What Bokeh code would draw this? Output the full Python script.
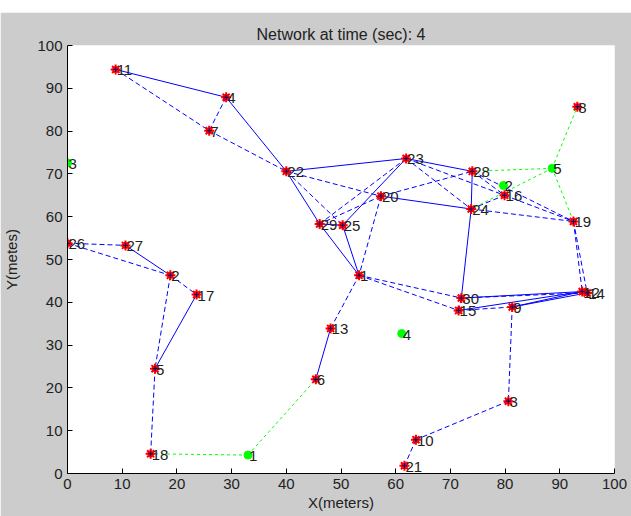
from bokeh.plotting import figure
from bokeh.models import Range1d, FixedTicker, Spacer, ColumnDataSource
from bokeh.layouts import column
from bokeh.embed import file_html
from bokeh.resources import INLINE
from bokeh.core.properties import value

# ---- data ----
red_ids = [str(i) for i in range(1, 31)]
red_x = [53.3, 18.8, 80.6, 29.0, 16.0, 45.4, 25.9, 93.2, 81.3, 63.7,
         8.8, 94.1, 48.1, 95.0, 71.5, 79.9, 23.6, 15.2, 92.5, 57.3,
         61.6, 40.0, 61.9, 73.8, 50.3, 0.0, 10.6, 74.0, 46.1, 72.0]
red_y = [46.3, 46.3, 16.9, 87.9, 24.5, 22.0, 80.1, 85.7, 38.9, 7.9,
         94.4, 42.5, 33.9, 42.2, 38.1, 65.0, 41.8, 4.6, 58.9, 64.8,
         1.8, 70.6, 73.6, 61.8, 58.0, 53.8, 53.3, 70.6, 58.3, 41.0]

green_ids = ["1", "2", "3", "4", "5"]
green_x = [33.0, 79.7, 0.0, 61.1, 88.6]
green_y = [4.3, 67.3, 72.6, 32.7, 71.3]

solid_links = [("R11", "R4"), ("R4", "R22"), ("R22", "R23"), ("R22", "R29"),
               ("R29", "R25"), ("R29", "R1"), ("R25", "R1"), ("R25", "R23"),
               ("R23", "R28"), ("R20", "R24"), ("R24", "R28"), ("R24", "R30"),
               ("R27", "R2"), ("R17", "R5"), ("R6", "R13"), ("R30", "R12"),
               ("R15", "R12"), ("R9", "R12"), ("R9", "R14")]
dashed_links = [("R11", "R7"), ("R7", "R22"), ("R4", "R7"), ("R26", "R27"),
                ("R26", "R2"), ("R2", "R17"), ("R2", "R5"), ("R5", "R18"),
                ("R13", "R1"), ("R22", "R25"), ("R22", "R20"), ("R23", "R29"),
                ("R23", "R24"), ("R23", "R16"), ("R20", "R28"), ("R20", "R1"),
                ("R20", "R29"), ("R28", "R16"), ("R28", "R19"), ("R24", "R16"),
                ("R24", "R19"), ("R16", "R19"), ("R19", "R12"), ("R19", "R14"),
                ("R1", "R30"), ("R1", "R15"), ("R30", "R15"), ("R30", "R14"),
                ("R15", "R9"), ("R9", "R3"), ("R3", "R10"), ("R10", "R21")]
green_links = [("G1", "R18"), ("G1", "R6"), ("G5", "R8"), ("G5", "R28"),
               ("G5", "R19"), ("G5", "R24")]

title_text = "Network at time (sec): 4"
x_label = "X(meters)"
y_label = "Y(metes)"
ticks = [0, 10, 20, 30, 40, 50, 60, 70, 80, 90, 100]

# ---- lookup ----
pos = {}
for i, x, y in zip(red_ids, red_x, red_y):
    pos["R" + i] = (x, y)
for i, x, y in zip(green_ids, green_x, green_y):
    pos["G" + i] = (x, y)


def segs(links):
    xs = [[pos[a][0], pos[b][0]] for a, b in links]
    ys = [[pos[a][1], pos[b][1]] for a, b in links]
    return xs, ys


FONT = "Liberation Sans"
BG = "#cccccc"

p = figure(width=631, height=504, output_backend="svg", toolbar_location=None,
           x_range=Range1d(0, 100), y_range=Range1d(0, 100),
           min_border_left=67, min_border_right=17, min_border_top=33,
           min_border_bottom=43, border_fill_color=BG,
           background_fill_color="white", outline_line_color=None,
           title=title_text)

p.title.align = "center"
p.title.text_font = FONT
p.title.text_font_size = "16px"
p.title.text_font_style = "normal"
p.title.text_color = "#222222"
p.title.standoff = 6

p.grid.visible = False
for ax in (p.xaxis[0], p.yaxis[0]):
    ax.ticker = FixedTicker(ticks=ticks)
    ax.major_tick_in = 5
    ax.major_tick_out = 0
    ax.minor_tick_line_color = None
    ax.axis_line_color = "black"
    ax.major_tick_line_color = "black"
    ax.major_label_text_font = FONT
    ax.major_label_text_font_size = "15px"
    ax.major_label_text_color = "#222222"
    ax.axis_label_text_font = FONT
    ax.axis_label_text_font_size = "15px"
    ax.axis_label_text_font_style = "normal"
    ax.axis_label_text_color = "#222222"
    ax.major_label_standoff = 5

p.xaxis.axis_label = x_label
p.yaxis.axis_label = y_label
p.xaxis.axis_label_standoff = 2
p.yaxis.axis_label_standoff = 14

xs, ys = segs(solid_links)
p.multi_line(xs, ys, line_color="#0000ff", line_width=1)
xs, ys = segs(dashed_links)
p.multi_line(xs, ys, line_color="#0000ff", line_width=1, line_dash="5 3")
xs, ys = segs(green_links)
p.multi_line(xs, ys, line_color="#00ff00", line_width=1, line_dash="3 3")

red_src = ColumnDataSource(dict(x=red_x, y=red_y, t=red_ids))
green_src = ColumnDataSource(dict(x=green_x, y=green_y, t=green_ids))

p.scatter("x", "y", source=green_src, marker="circle", size=8,
          fill_color="#00ff00", line_color="#00ff00")
p.scatter("x", "y", source=red_src, marker="circle", size=6,
          fill_color="red", line_color="red")
p.scatter("x", "y", source=red_src, marker="asterisk", size=10,
          line_color="red", line_width=2)
p.scatter("x", "y", source=red_src, marker="cross", size=5,
          line_color="#000080", line_width=1)

for src in (red_src, green_src):
    p.text("x", "y", text="t", source=src, x_offset=1, y_offset=1,
           text_baseline="middle", text_align="left",
           text_font=value(FONT), text_font_size="15px", text_color="#222222")

layout = column(Spacer(width=631, height=12), p)
open("out.html", "w").write(file_html(layout, INLINE))
